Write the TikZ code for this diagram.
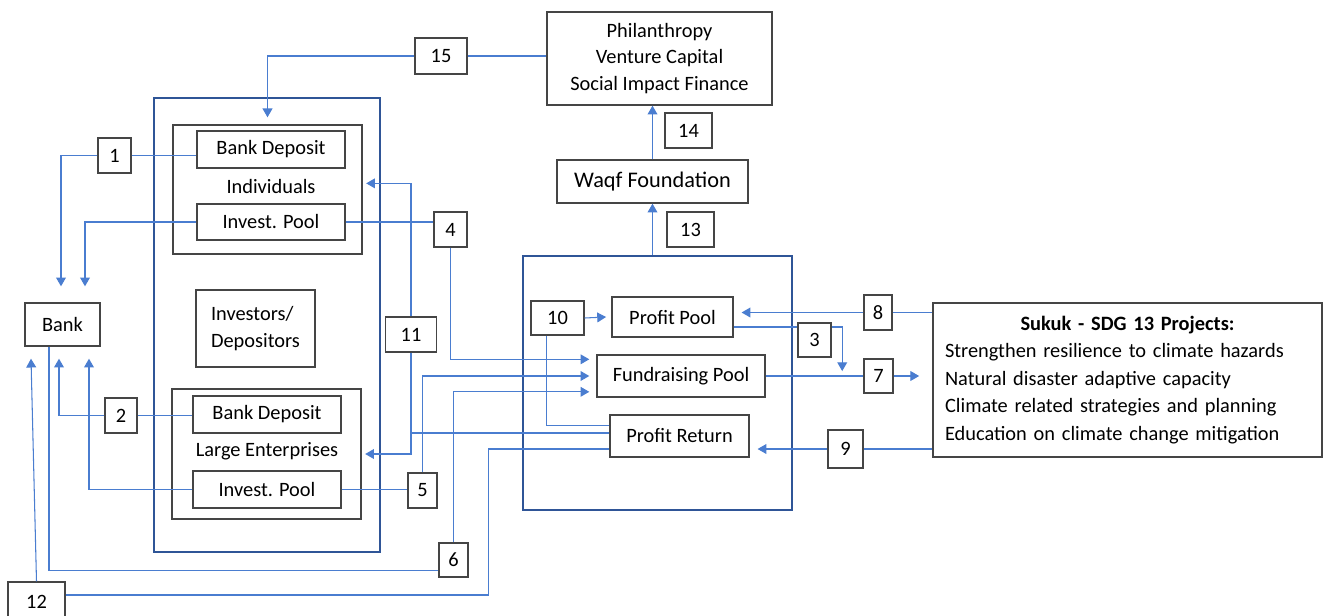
\documentclass[tikz,border=0pt]{standalone}
\usepackage{fontspec}
\setmainfont{Carlito}
\usepackage{tikz}
\usetikzlibrary{arrows.meta, positioning}
\definecolor{lnblue}{HTML}{4A7DD0}
\definecolor{boxblue}{HTML}{2F5597}
\definecolor{boxgray}{HTML}{454545}

\begin{document}
\begin{tikzpicture}[
    x=0.02cm, y=-0.02cm,
    every node/.style={font=\fontsize{11.6}{15}\selectfont, inner sep=0pt},
    proc/.style={draw=boxgray, line width=0.8pt, fill=white, align=center},
    numbox/.style={draw=boxgray, line width=0.8pt, fill=white, minimum width=0.64cm, minimum height=0.7cm},
    grp/.style={draw=boxgray, line width=0.8pt, minimum width=3.78cm},
    bluebox/.style={draw=boxblue, line width=1.2pt},
    ln/.style={draw=lnblue, line width=0.6pt},
    ar/.style={ln, -{Triangle[length=5pt, width=5.6pt]}}
]
\useasboundingbox (0,0) rectangle (1324,615);

% outer frames
\node[bluebox, minimum width=4.52cm, minimum height=9.08cm] (lbox) at (267,325) {};
\node[bluebox, minimum width=5.38cm, minimum height=5.08cm] (rbox) at (657.5,383) {};

% investors / depositors
\node[grp, minimum height=2.58cm] (indgrp) at (267.5,189.5) {};
\node[proc, minimum width=2.96cm, minimum height=0.74cm] (bd1) at (271,149.5) {Bank Deposit};
\node (indlbl) at (271,186) {Individuals};
\node[proc, minimum width=2.96cm, minimum height=0.72cm] (ip1) at (271,222) {Invest. Pool};
\node[proc, align=left, minimum width=2.38cm, minimum height=1.54cm, font=\fontsize{11.6}{15.3}\selectfont] (invdep) at (255.5,328.5) {Investors/\\Depositors};
\node[grp, minimum height=2.6cm] (legrp) at (266.5,454) {};
\node[proc, minimum width=2.96cm, minimum height=0.74cm] (bd2) at (267,414.5) {Bank Deposit};
\node (lelbl) at (267,451) {Large Enterprises};
\node[proc, minimum width=2.96cm, minimum height=0.74cm] (ip2) at (267,489.5) {Invest. Pool};

\node[proc, minimum width=1.5cm, minimum height=0.86cm] (bank) at (62.5,324.5) {Bank};

% pools
\node[proc, minimum width=2.42cm, minimum height=0.8cm] (pp) at (672.5,317) {Profit Pool};
\node[proc, minimum width=3.36cm, minimum height=0.84cm] (fp) at (681,376) {Fundraising Pool};
\node[proc, minimum width=2.78cm, minimum height=0.84cm] (pr) at (679.5,436) {Profit Return};

\node[proc, minimum width=3.82cm, minimum height=0.86cm, font=\fontsize{12.7}{15}\selectfont] (waqf) at (652.5,181.5) {Waqf Foundation};
\node[proc, minimum width=4.5cm, minimum height=1.86cm] (phil) at (659.5,58.5) {Philanthropy\\Venture Capital\\Social Impact Finance};
\node[proc, minimum width=7.78cm, minimum height=3.08cm, text width=7.3cm, align=left, font=\fontsize{11.6}{15.6}\selectfont] (sukuk) at (1127.5,380) {\makebox[\linewidth]{\textbf{Sukuk - SDG 13 Projects:}}\\Strengthen resilience to climate hazards\\Natural disaster adaptive capacity\\Climate related strategies and planning\\Education on climate change mitigation};

% step numbers
\node[numbox, minimum width=0.66cm] (n1) at (114.5,155.5) {1};
\node[numbox] (n2) at (121,415.5) {2};
\node[numbox, minimum width=0.66cm] (n4) at (450.5,229.5) {4};
\node[numbox, minimum width=0.58cm] (n5) at (422.5,490.5) {5};
\node[numbox, minimum width=0.58cm, minimum height=0.68cm] (n6) at (453.5,560) {6};
\node[numbox, minimum width=0.58cm, minimum height=0.68cm] (n7) at (878.5,376) {7};
\node[numbox, minimum width=0.56cm] (n8) at (878,312.5) {8};
\node[numbox, minimum width=0.7cm, minimum height=0.76cm] (n9) at (845.5,449) {9};
\node[numbox, minimum width=1.06cm, minimum height=0.68cm] (n10) at (557.5,318) {10};
\node[numbox, minimum width=1.02cm] (n11) at (411,334.5) {11};
\node[numbox, minimum width=1.14cm, minimum height=0.8cm] (n12) at (36.5,602) {12};
\node[numbox, minimum width=0.94cm] (n13) at (690.5,229.5) {13};
\node[numbox, minimum width=0.94cm] (n14) at (688.5,130.5) {14};
\node[numbox, minimum width=1.04cm, minimum height=0.72cm] (n15) at (441,56) {15};

% arrow ends at the bank
\coordinate (bk1) at ([xshift=-0.03cm, yshift=0.32cm]bank.north);
\coordinate (bk2) at ([xshift=0.45cm, yshift=0.32cm]bank.north);
\coordinate (bk3) at ([xshift=-0.07cm, yshift=-0.24cm]bank.south);
\coordinate (bk4) at ([xshift=0.53cm, yshift=-0.24cm]bank.south);
\coordinate (bk5) at ([xshift=-0.63cm, yshift=-0.24cm]bank.south);

% connectors
\draw[ln] (n15.east) -- (n15.east -| phil.west);
\draw[ar] (n15.west) -| ([yshift=4pt]indgrp.north);
\draw[ar] (waqf.north) -- (waqf.north |- phil.south);
\draw[ar] (rbox.north -| waqf.north) -- (waqf.south);
\draw[ln] (n1.east) -- (n1.east -| bd1.west);
\draw[ar] (n1.west) -| (bk1);
\draw[ar] (ip1.west) -| (bk2);
\draw[ln] (n2.east) -- (n2.east -| bd2.west);
\draw[ar] (n2.west) -| (bk3);
\draw[ar] (ip2.west) -| (bk4);
\draw[ar] (n12.north) -- (bk5);
\draw[ln] ([xshift=-0.27cm]bank.south) |- ([yshift=-6pt]n6.west);
\draw[ar] (n6.north) |- ([xshift=-4pt, yshift=-9pt]fp.west);
\draw[ln] (ip1.east) -- (ip1.east -| n4.west);
\draw[ar] (n4.south) |- ([xshift=-4pt, yshift=9.5pt]fp.west);
\draw[ln] (ip2.east) -- (ip2.east -| n5.west);
\draw[ar] (n5.north) |- ([xshift=-4pt]fp.west);
\draw[ar] (n11.north) |- ([xshift=2pt, yshift=3.5pt]indgrp.east);
\draw[ar] (n11.south) |- ([xshift=2pt]legrp.east);
\draw[ln] ([yshift=1.7pt]pr.west) -- ([yshift=1.7pt]pr.west -| n11.south);
\draw[ar] (n10.east) -- ([xshift=-3pt]pp.west);
\draw[ln] ([xshift=-6pt]n10.south) |- ([yshift=6.2pt]pr.west);
\draw[ar] (n8.west) -- ([xshift=4.5pt]n8.west -| pp.east);
\draw[ln] (n8.east) -- (n8.east -| sukuk.west);
\draw[ar] ([yshift=-5.7pt]pp.east) -| ([xshift=-12pt, yshift=2.8pt]n7.west);
\draw[ln] (fp.east) -- (fp.east -| n7.west);
\draw[ar] (n7.east) -- ([xshift=-7.5pt]n7.east -| sukuk.west);
\draw[ln] (n9.east) -- (n9.east -| sukuk.west);
\draw[ar] (n9.west) -- ([xshift=4.5pt]n9.west -| pr.east);
\draw[ln] ([yshift=-7.4pt]pr.west) -- ++(-121,0) |- ([yshift=4pt]n12.east);

% sits on the line out of the profit pool
\node[numbox, minimum width=0.66cm, minimum height=0.68cm] (n3) at (814.5,340) {3};
\end{tikzpicture}
\end{document}
